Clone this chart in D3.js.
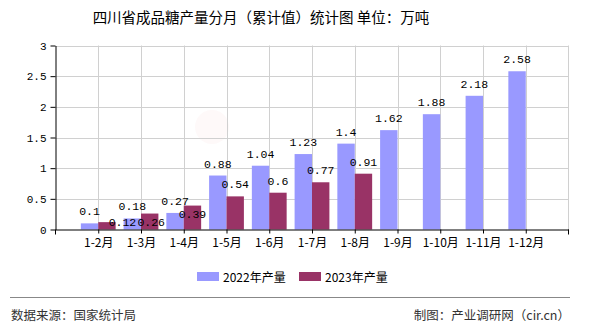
<!DOCTYPE html>
<html>
<head>
<meta charset="utf-8">
<script src="https://cdn.jsdelivr.net/npm/d3@7"></script>
<style>
  html, body { margin: 0; padding: 0; background: #fff; }
  svg { display: block; }
  text { font-family: "Liberation Mono", "DejaVu Sans Mono", "Noto Sans CJK SC", monospace; }
  .cjk { font-family: "Noto Sans CJK SC", "Noto Sans", sans-serif; }
</style>
</head>
<body>
<script>
// Cumulative monthly refined sugar output, Sichuan (10k tonnes)
const categories = ["1-2月", "1-3月", "1-4月", "1-5月", "1-6月", "1-7月", "1-8月", "1-9月", "1-10月", "1-11月", "1-12月"];
const values2022 = [0.1, 0.18, 0.27, 0.88, 1.04, 1.23, 1.4, 1.62, 1.88, 2.18, 2.58];
const values2023 = [0.12, 0.26, 0.39, 0.54, 0.6, 0.77, 0.91];
const seriesNames = ["2022年产量", "2023年产量"];
const yTicks = [0, 0.5, 1, 1.5, 2, 2.5, 3];

const W = 590, H = 330;
const margin = { left: 55.5, right: 21.5, top: 45.5, bottom: 100.5 };
const colors = ["#9999ff", "#993366"];

const svg = d3.select("body").append("svg").attr("width", W).attr("height", H);

const x = d3.scalePoint().domain(categories)
  .range([margin.left, W - margin.right]).padding(1);
const y = d3.scaleLinear().domain([0, 3]).range([H - margin.bottom, margin.top]);
const barW = 17.4;

// faint logo mark behind the plot
svg.append("circle").attr("cx", 212).attr("cy", 127).attr("r", 17)
  .attr("fill", "#d33").attr("opacity", 0.03);

// grid
const grid = svg.append("g").attr("stroke", "#d0d0d0").attr("stroke-width", 1);
grid.selectAll("line.h").data(yTicks.slice(1)).join("line")
  .attr("x1", margin.left).attr("x2", W - margin.right)
  .attr("y1", d => Math.round(y(d)) + 0.5).attr("y2", d => Math.round(y(d)) + 0.5);
grid.selectAll("line.v").data(categories).join("line")
  .attr("x1", d => Math.round(x(d)) + 0.5).attr("x2", d => Math.round(x(d)) + 0.5)
  .attr("y1", margin.top).attr("y2", y(0));
grid.append("line")
  .attr("x1", W - margin.right).attr("x2", W - margin.right)
  .attr("y1", margin.top).attr("y2", y(0));

// bars
const series = [values2022, values2023];
series.forEach((vals, s) => {
  svg.append("g").selectAll("rect").data(vals).join("rect")
    .attr("x", (d, i) => x(categories[i]) + (s === 0 ? -barW : 0))
    .attr("y", d => y(d))
    .attr("width", barW)
    .attr("height", d => y(0) - y(d))
    .attr("fill", colors[s]);
});

// axes
const xAxis = d3.axisBottom(x).tickSize(4).tickSizeOuter(0);
const gx = svg.append("g").attr("transform", `translate(0,${y(0)})`).call(xAxis);
gx.select(".domain").attr("stroke", "#000");
gx.selectAll(".tick line").attr("stroke", "#000");
gx.selectAll(".tick text").attr("class", "cjk").attr("font-size", 12).attr("fill", "#000").attr("dy", "0.9em");
[margin.left, W - margin.right].forEach(px => {
  gx.append("line").attr("x1", px).attr("x2", px).attr("y1", 0).attr("y2", 5).attr("stroke", "#000");
});

const yAxis = d3.axisLeft(y).tickValues(yTicks).tickFormat(d3.format("")).tickSize(5).tickSizeOuter(0);
const gy = svg.append("g").attr("transform", `translate(${margin.left},0)`).call(yAxis);
gy.select(".domain").attr("stroke", "#000");
gy.selectAll(".tick line").attr("stroke", "#000");
gy.selectAll(".tick text").attr("font-size", 11).attr("fill", "#000").attr("x", -9);

// value labels (some 2023 labels are pushed aside to avoid the 2022 ones)
const nudge = { "1-2月": [15.5, 12], "1-3月": [1.5, 20.5], "1-4月": [0, 20.5] };
series.forEach((vals, s) => {
  svg.append("g").selectAll("text").data(vals).join("text")
    .attr("x", (d, i) => {
      const c = x(categories[i]) + (s === 0 ? -barW / 2 : barW / 2);
      const n = s === 1 && nudge[categories[i]] ? nudge[categories[i]][0] : 0;
      return c + n;
    })
    .attr("y", (d, i) => {
      const n = s === 1 && nudge[categories[i]] ? nudge[categories[i]][1] : 0;
      return y(d) - 8 + n;
    })
    .attr("text-anchor", "middle")
    .attr("font-size", 11.5).attr("fill", "#000")
    .text(d => d);
});

// title
svg.append("text").attr("class", "cjk").attr("x", 261).attr("y", 23)
  .attr("text-anchor", "middle").attr("font-size", 14.5).attr("fill", "#000")
  .text("四川省成品糖产量分月（累计值）统计图 单位：万吨");

// legend
const legendX = [197, 299];
seriesNames.forEach((name, s) => {
  const g = svg.append("g").attr("transform", `translate(${legendX[s]},272)`);
  g.append("rect").attr("width", 22).attr("height", 9).attr("fill", colors[s]);
  g.append("text").attr("class", "cjk").attr("x", 26).attr("y", 9.5)
    .attr("font-size", 12).attr("fill", "#000").text(name);
});

// footer
svg.append("line").attr("x1", 10).attr("x2", 570).attr("y1", 297.5).attr("y2", 297.5)
  .attr("stroke", "#888").attr("stroke-width", 1);
svg.append("text").attr("class", "cjk").attr("x", 11).attr("y", 320)
  .attr("font-size", 12.5).attr("fill", "#333").text("数据来源：国家统计局");
svg.append("text").attr("class", "cjk").attr("x", 570).attr("y", 320)
  .attr("text-anchor", "end").attr("font-size", 12.5).attr("fill", "#333").text("制图：产业调研网（cir.cn）");
</script>
</body>
</html>
